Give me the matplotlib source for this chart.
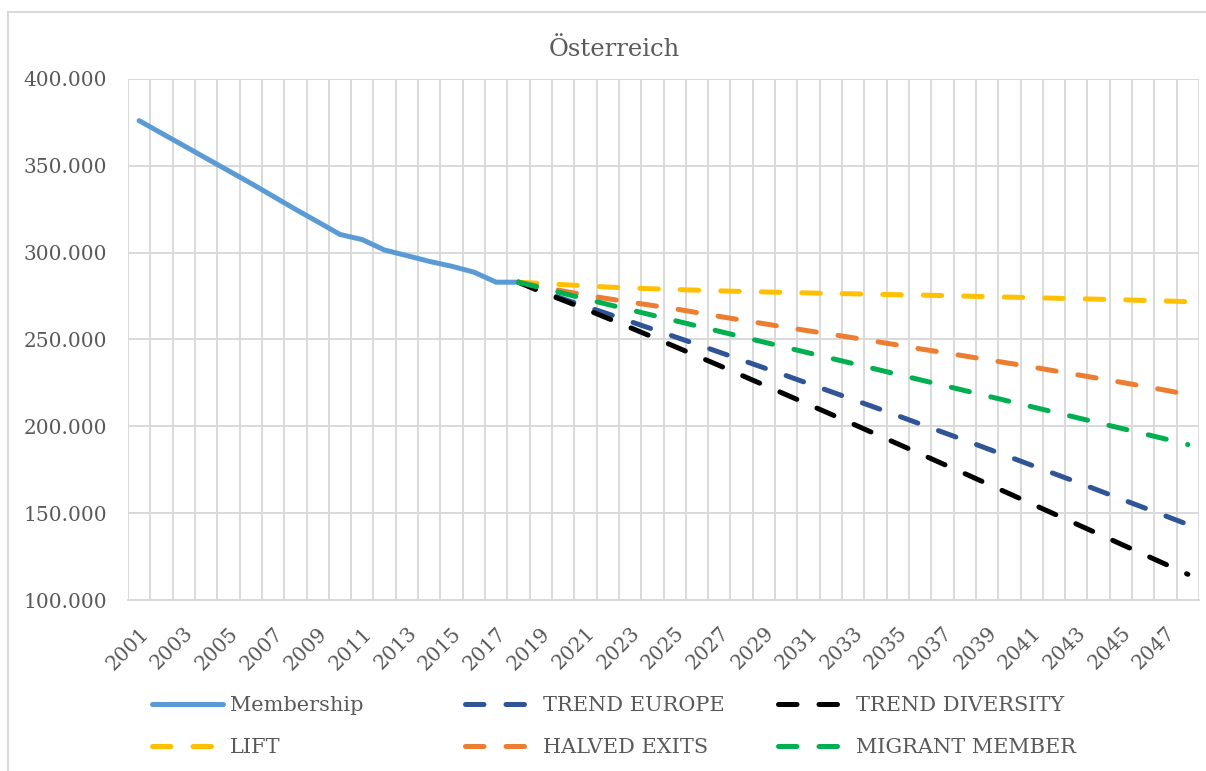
import numpy as np
import matplotlib.pyplot as plt
from matplotlib.patches import Rectangle
from matplotlib.ticker import FuncFormatter, MultipleLocator

years = list(range(2001, 2049))

# Membership 2001-2018
membership = [376000, 368800, 361600, 354400, 347200, 340000, 332500, 325000, 317800,
              310500, 307500, 301500, 298300, 295000, 292200, 288800, 283000, 283000]

# Projections 2018-2048
trend_europe = [283000, 278000, 273400, 269100, 264800, 260400, 256000, 251600, 247200,
                242700, 238200, 233700, 229200, 224600, 220000, 215400, 210800, 206100,
                201400, 196700, 192000, 187200, 182400, 177600, 172800, 168000, 163100,
                158200, 153300, 148400, 143500]
trend_diversity = [283000, 277500, 272600, 267500, 262200, 256900, 251500, 246000, 240500,
                   235000, 229400, 223800, 218200, 212600, 207000, 201300, 195600, 189900,
                   184200, 178500, 172800, 167000, 161200, 155400, 149600, 143800, 138000,
                   132200, 126400, 120600, 114800]
lift = [283000, 282300, 281600, 280900, 280200, 279700, 279200, 278800, 278400, 278000,
        277700, 277400, 277100, 276800, 276500, 276300, 276000, 275800, 275600, 275300,
        275000, 274700, 274400, 274100, 273800, 273500, 273200, 272900, 272500, 272200,
        271800]
halved_exits = [283000, 280400, 277900, 275600, 273500, 271500, 269600, 267700, 265500,
                263300, 261200, 259100, 257000, 255000, 253000, 251000, 248900, 246800,
                244600, 242600, 240500, 238400, 236300, 234200, 232000, 229800, 227600,
                225400, 223100, 220800, 218300]
migrant_member = [283000, 279800, 276600, 273400, 270200, 267100, 264000, 260900, 257800,
                  254700, 251600, 248500, 245400, 242300, 239200, 236100, 233000, 229900,
                  226800, 223700, 220600, 217500, 214400, 211300, 208200, 205100, 202000,
                  198900, 195800, 192700, 189500]

W, H = 1206, 771
plt.rcParams['font.family'] = ['DejaVu Serif']
fig = plt.figure(figsize=(W / 100, H / 100), dpi=100)
ax = fig.add_axes([128 / W, 1 - 600 / H, (1199 - 128) / W, (600 - 79) / H])

x = np.arange(len(years))
n_hist = len(membership)
x_hist = x[:n_hist]
x_proj = x[n_hist - 1:]

lw = 3.6
dash = (3.7, 4.4)
ax.plot(x_hist, membership, color='#5B9BD5', lw=lw, solid_capstyle='round',
        solid_joinstyle='round', label='Membership', zorder=3)
series = [
    (trend_europe, '#2F5597', 'TREND EUROPE'),
    (trend_diversity, '#000000', 'TREND DIVERSITY'),
    (lift, '#FFC000', 'LIFT'),
    (halved_exits, '#ED7D31', 'HALVED EXITS'),
    (migrant_member, '#00B050', 'MIGRANT MEMBER'),
]
lines = {}
for vals, col, name in series:
    ln, = ax.plot(x_proj, vals, color=col, lw=lw, dashes=dash,
                  dash_capstyle='round', label=name, zorder=3)
    lines[name] = ln
mem_line = ax.get_lines()[0]

ax.set_xlim(-0.5, len(years) - 0.5)
ax.set_ylim(100000, 400000)
ax.yaxis.set_major_locator(MultipleLocator(50000))
ax.yaxis.set_major_formatter(FuncFormatter(lambda v, p: f"{v:,.0f}".replace(",", ".")))
ax.set_xticks(x[::2])
ax.set_xticklabels([str(y) for y in years[::2]], rotation=45, ha='right',
                   rotation_mode='anchor')
ax.set_xticks(np.arange(-0.5, len(years)), minor=True)
ax.grid(False)
ax.grid(True, which='minor', axis='x', color='#d9d9d9', lw=1.4)
ax.grid(True, which='major', axis='y', color='#d9d9d9', lw=1.4)
ax.set_axisbelow(True)
for s in ['top', 'right', 'left']:
    ax.spines[s].set_visible(False)
ax.spines['bottom'].set_color('#d9d9d9')
ax.spines['bottom'].set_linewidth(1.4)
ax.tick_params(axis='both', which='both', length=0, colors='#595959', labelsize=14.5)
ax.tick_params(axis='y', pad=15)
ax.tick_params(axis='x', pad=17)

fig.text(614 / W, 1 - 50 / H, 'Österreich', ha='center', va='center',
         fontsize=17.5, color='#595959')

fig.add_artist(Rectangle((8 / W, -0.05), 1.2, 1 - 12 / H + 0.05,
                         transform=fig.transFigure, fill=False,
                         edgecolor='#d9d9d9', lw=1.5))

columns = [
    ([mem_line, lines['LIFT']], 152),
    ([lines['TREND EUROPE'], lines['HALVED EXITS']], 465),
    ([lines['TREND DIVERSITY'], lines['MIGRANT MEMBER']], 778),
]
for handles, x0 in columns:
    leg = fig.legend(handles=handles, labels=[h.get_label() for h in handles],
                     loc='upper left', bbox_to_anchor=(x0 / W, 1 - 696 / H),
                     frameon=False, fontsize=15, handlelength=3.4,
                     handletextpad=0.33, labelspacing=1.1, borderpad=0,
                     borderaxespad=0, labelcolor='#595959')

fig.savefig('out.png', dpi=100)
